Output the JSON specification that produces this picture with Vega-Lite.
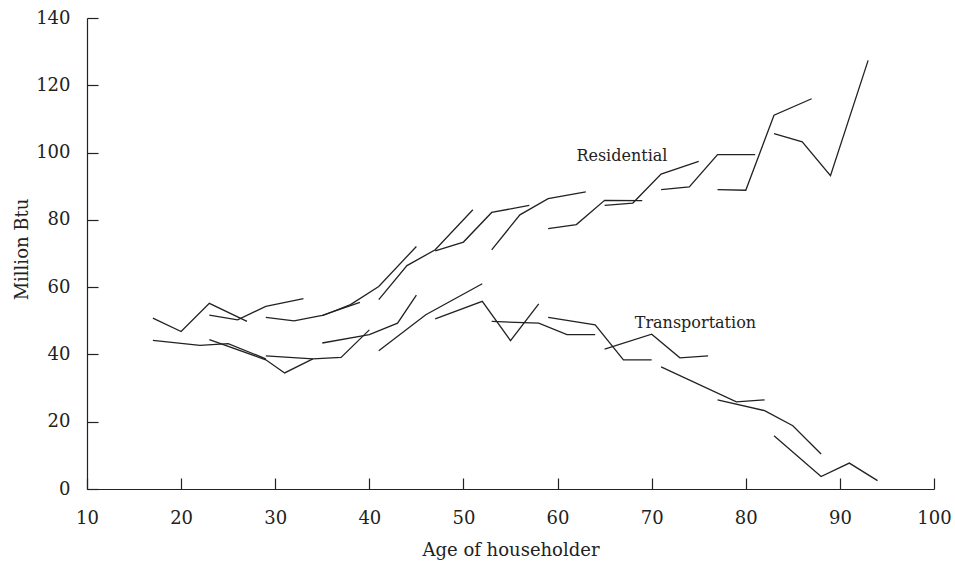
{
  "$schema": "https://vega.github.io/schema/vega-lite/v6.json",
  "width": 847,
  "height": 471,
  "autosize": "none",
  "padding": {"left": 87, "top": 18, "right": 21, "bottom": 72},
  "background": "white",
  "config": {
    "view": {"stroke": null},
    "font": "DejaVu Serif",
    "axis": {
      "grid": false,
      "domainColor": "#222",
      "domainWidth": 1.2,
      "tickColor": "#222",
      "tickWidth": 1.2,
      "tickSize": -11,
      "labelFont": "DejaVu Serif",
      "labelFontSize": 18,
      "labelColor": "#222",
      "titleFont": "DejaVu Serif",
      "titleFontSize": 18,
      "titleFontWeight": "normal",
      "titleColor": "#222"
    }
  },
  "datasets": {
    "lines": [
      {"series": "Residential", "cohort": "R17", "age": 17, "value": 50.8},
      {"series": "Residential", "cohort": "R17", "age": 20, "value": 46.8},
      {"series": "Residential", "cohort": "R17", "age": 23, "value": 55.2},
      {"series": "Residential", "cohort": "R17", "age": 27, "value": 49.8},
      {"series": "Residential", "cohort": "R23", "age": 23, "value": 51.7},
      {"series": "Residential", "cohort": "R23", "age": 26, "value": 50.3},
      {"series": "Residential", "cohort": "R23", "age": 29, "value": 54.3},
      {"series": "Residential", "cohort": "R23", "age": 33, "value": 56.6},
      {"series": "Residential", "cohort": "R29", "age": 29, "value": 51.0},
      {"series": "Residential", "cohort": "R29", "age": 32, "value": 50.0},
      {"series": "Residential", "cohort": "R29", "age": 35, "value": 51.6},
      {"series": "Residential", "cohort": "R29", "age": 39, "value": 55.5},
      {"series": "Residential", "cohort": "R35", "age": 35, "value": 51.5},
      {"series": "Residential", "cohort": "R35", "age": 38, "value": 54.8},
      {"series": "Residential", "cohort": "R35", "age": 41, "value": 60.2},
      {"series": "Residential", "cohort": "R35", "age": 45, "value": 72.1},
      {"series": "Residential", "cohort": "R41", "age": 41, "value": 56.3},
      {"series": "Residential", "cohort": "R41", "age": 44, "value": 66.4},
      {"series": "Residential", "cohort": "R41", "age": 47, "value": 71.1},
      {"series": "Residential", "cohort": "R41", "age": 51, "value": 83.0},
      {"series": "Residential", "cohort": "R47", "age": 47, "value": 70.8},
      {"series": "Residential", "cohort": "R47", "age": 50, "value": 73.4},
      {"series": "Residential", "cohort": "R47", "age": 53, "value": 82.2},
      {"series": "Residential", "cohort": "R47", "age": 57, "value": 84.3},
      {"series": "Residential", "cohort": "R53", "age": 53, "value": 71.1},
      {"series": "Residential", "cohort": "R53", "age": 56, "value": 81.5},
      {"series": "Residential", "cohort": "R53", "age": 59, "value": 86.3},
      {"series": "Residential", "cohort": "R53", "age": 63, "value": 88.3},
      {"series": "Residential", "cohort": "R59", "age": 59, "value": 77.4},
      {"series": "Residential", "cohort": "R59", "age": 62, "value": 78.6},
      {"series": "Residential", "cohort": "R59", "age": 65, "value": 85.8},
      {"series": "Residential", "cohort": "R59", "age": 69, "value": 85.7},
      {"series": "Residential", "cohort": "R65", "age": 65, "value": 84.3},
      {"series": "Residential", "cohort": "R65", "age": 68, "value": 85.0},
      {"series": "Residential", "cohort": "R65", "age": 71, "value": 93.6},
      {"series": "Residential", "cohort": "R65", "age": 75, "value": 97.4},
      {"series": "Residential", "cohort": "R71", "age": 71, "value": 89.0},
      {"series": "Residential", "cohort": "R71", "age": 74, "value": 89.8},
      {"series": "Residential", "cohort": "R71", "age": 77, "value": 99.4},
      {"series": "Residential", "cohort": "R71", "age": 81, "value": 99.4},
      {"series": "Residential", "cohort": "R77", "age": 77, "value": 89.0},
      {"series": "Residential", "cohort": "R77", "age": 80, "value": 88.8},
      {"series": "Residential", "cohort": "R77", "age": 83, "value": 111.1},
      {"series": "Residential", "cohort": "R77", "age": 87, "value": 116.0},
      {"series": "Residential", "cohort": "R83", "age": 83, "value": 105.6},
      {"series": "Residential", "cohort": "R83", "age": 86, "value": 103.2},
      {"series": "Residential", "cohort": "R83", "age": 89, "value": 93.1},
      {"series": "Residential", "cohort": "R83", "age": 93, "value": 127.4},
      {"series": "Transportation", "cohort": "T17", "age": 17, "value": 44.2},
      {"series": "Transportation", "cohort": "T17", "age": 22, "value": 42.7},
      {"series": "Transportation", "cohort": "T17", "age": 25, "value": 43.2},
      {"series": "Transportation", "cohort": "T17", "age": 29, "value": 38.7},
      {"series": "Transportation", "cohort": "T23", "age": 23, "value": 44.4},
      {"series": "Transportation", "cohort": "T23", "age": 29, "value": 38.4},
      {"series": "Transportation", "cohort": "T23", "age": 31, "value": 34.5},
      {"series": "Transportation", "cohort": "T23", "age": 34, "value": 38.7},
      {"series": "Transportation", "cohort": "T29", "age": 29, "value": 39.6},
      {"series": "Transportation", "cohort": "T29", "age": 34, "value": 38.7},
      {"series": "Transportation", "cohort": "T29", "age": 37, "value": 39.1},
      {"series": "Transportation", "cohort": "T29", "age": 40, "value": 47.3},
      {"series": "Transportation", "cohort": "T35", "age": 35, "value": 43.4},
      {"series": "Transportation", "cohort": "T35", "age": 40, "value": 45.9},
      {"series": "Transportation", "cohort": "T35", "age": 43, "value": 49.3},
      {"series": "Transportation", "cohort": "T35", "age": 45, "value": 57.6},
      {"series": "Transportation", "cohort": "T41", "age": 41, "value": 41.1},
      {"series": "Transportation", "cohort": "T41", "age": 46, "value": 51.8},
      {"series": "Transportation", "cohort": "T41", "age": 52, "value": 61.0},
      {"series": "Transportation", "cohort": "T47", "age": 47, "value": 50.6},
      {"series": "Transportation", "cohort": "T47", "age": 52, "value": 55.8},
      {"series": "Transportation", "cohort": "T47", "age": 55, "value": 44.1},
      {"series": "Transportation", "cohort": "T47", "age": 58, "value": 55.0},
      {"series": "Transportation", "cohort": "T53", "age": 53, "value": 49.8},
      {"series": "Transportation", "cohort": "T53", "age": 58, "value": 49.3},
      {"series": "Transportation", "cohort": "T53", "age": 61, "value": 45.9},
      {"series": "Transportation", "cohort": "T53", "age": 64, "value": 45.9},
      {"series": "Transportation", "cohort": "T59", "age": 59, "value": 51.0},
      {"series": "Transportation", "cohort": "T59", "age": 64, "value": 48.8},
      {"series": "Transportation", "cohort": "T59", "age": 67, "value": 38.4},
      {"series": "Transportation", "cohort": "T59", "age": 70, "value": 38.4},
      {"series": "Transportation", "cohort": "T65", "age": 65, "value": 41.6},
      {"series": "Transportation", "cohort": "T65", "age": 70, "value": 46.0},
      {"series": "Transportation", "cohort": "T65", "age": 73, "value": 39.0},
      {"series": "Transportation", "cohort": "T65", "age": 76, "value": 39.6},
      {"series": "Transportation", "cohort": "T71", "age": 71, "value": 36.3},
      {"series": "Transportation", "cohort": "T71", "age": 79, "value": 25.9},
      {"series": "Transportation", "cohort": "T71", "age": 82, "value": 26.5},
      {"series": "Transportation", "cohort": "T77", "age": 77, "value": 26.5},
      {"series": "Transportation", "cohort": "T77", "age": 82, "value": 23.3},
      {"series": "Transportation", "cohort": "T77", "age": 85, "value": 18.8},
      {"series": "Transportation", "cohort": "T77", "age": 88, "value": 10.4},
      {"series": "Transportation", "cohort": "T83", "age": 83, "value": 15.8},
      {"series": "Transportation", "cohort": "T83", "age": 88, "value": 3.7},
      {"series": "Transportation", "cohort": "T83", "age": 91, "value": 7.7},
      {"series": "Transportation", "cohort": "T83", "age": 94, "value": 2.5}
    ],
    "labels": [
      {"label": "Residential", "age": 62.0, "value": 97.4},
      {"label": "Transportation", "age": 68.2, "value": 47.9}
    ]
  },
  "layer": [
    {
      "data": {"name": "lines"},
      "mark": {"type": "line", "color": "#222", "strokeWidth": 1.3},
      "encoding": {
        "x": {
          "field": "age", "type": "quantitative",
          "scale": {"domain": [10, 100], "nice": false, "zero": false},
          "axis": {
            "title": "Age of householder",
            "values": [10, 20, 30, 40, 50, 60, 70, 80, 90, 100],
            "labelPadding": 31,
            "labelFlush": false,
            "labelOverlap": false,
            "titleBaseline": "alphabetic",
            "titleY": 66
          }
        },
        "y": {
          "field": "value", "type": "quantitative",
          "scale": {"domain": [0, 140], "nice": false},
          "axis": {
            "title": "Million Btu",
            "values": [0, 20, 40, 60, 80, 100, 120, 140],
            "labelPadding": 28,
            "labelFlush": false,
            "labelOverlap": false,
            "titleAngle": -90,
            "titleBaseline": "alphabetic",
            "titleX": -60,
            "titleY": 231,
            "titleAnchor": null
          }
        },
        "detail": {"field": "cohort"},
        "order": {"field": "age", "type": "quantitative"}
      }
    },
    {
      "data": {"name": "labels"},
      "mark": {"type": "text", "align": "left", "baseline": "alphabetic", "font": "DejaVu Serif", "fontSize": 16, "color": "#222"},
      "encoding": {
        "x": {"field": "age", "type": "quantitative"},
        "y": {"field": "value", "type": "quantitative"},
        "text": {"field": "label"}
      }
    },
    {
      "mark": {"type": "rule", "color": "#222", "strokeWidth": 1.2},
      "encoding": {"x": {"datum": 100}}
    }
  ]
}
